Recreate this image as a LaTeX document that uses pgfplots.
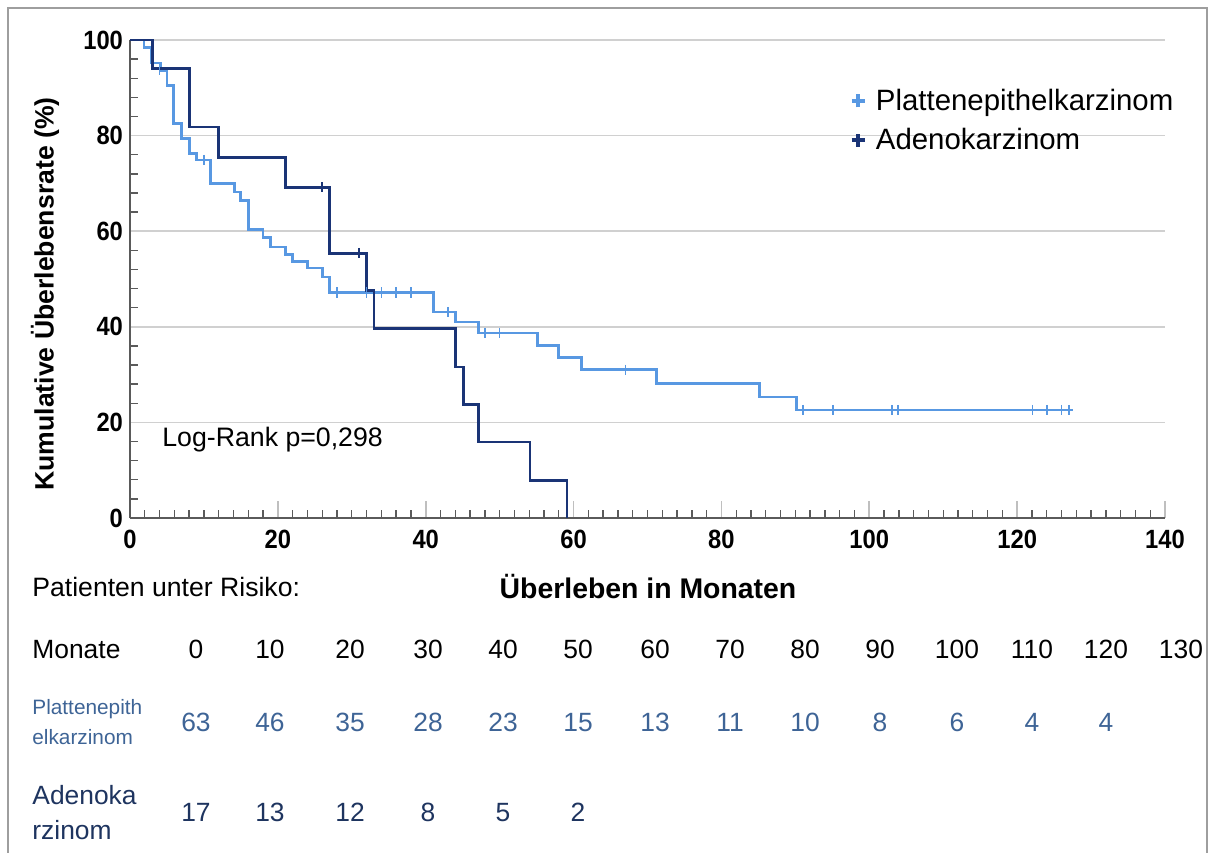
\documentclass[border=0pt]{standalone}
\usepackage{graphicx}
\usepackage{pgfplots}
\pgfplotsset{compat=1.18}
\usepackage{fontspec}
\setmainfont{Liberation Sans}

\definecolor{squam}{RGB}{88,152,226}
\definecolor{adeno}{RGB}{26,52,118}
\definecolor{squamtxt}{RGB}{62,100,150}
\definecolor{adenotxt}{RGB}{30,52,95}
\definecolor{gridgray}{RGB}{208,208,208}
\definecolor{axisgray}{RGB}{90,90,90}
\newcommand\fs[1]{\fontsize{#1}{#1}\selectfont}

% Kaplan-Meier steps: month, survival (%)
\pgfplotstableread{
m s
0 100
1.9 98.4
2.9 95.2
4.1 93.7
5.0 90.5
5.9 82.5
7.0 79.4
8.0 76.2
9.0 74.9
10.9 70.0
14.1 68.2
15.0 66.5
16.0 60.3
18.0 58.6
19.0 56.7
21.0 55.2
22.0 53.6
24.0 52.3
26.0 50.4
27.0 47.2
41.0 43.1
44.0 41.0
47.1 38.7
55.1 36.1
58.0 33.5
61.1 31.0
71.2 28.2
85.1 25.3
90.1 22.6
127.5 22.6
}\squamstep

\pgfplotstableread{
m s
4.0 93.7
10.0 74.9
28.0 47.2
32.0 47.2
34.0 47.2
36.0 47.2
38.0 47.2
43.0 43.1
48.0 38.7
50.0 38.7
67.0 31.0
91.0 22.6
95.1 22.6
103.1 22.6
103.9 22.6
122.1 22.6
124.0 22.6
126.0 22.6
127.0 22.6
}\squamcens

\pgfplotstableread{
m s
0 100
3.0 94.1
8.1 81.8
12.0 75.5
21.0 69.2
27.0 55.4
32.0 47.6
33.0 39.6
44.0 31.6
45.1 23.7
47.1 15.9
54.1 7.9
59.1 0
}\adenostep

\pgfplotstableread{
m s
26.0 69.2
31.0 55.4
}\adenocens

\begin{document}
\begin{tikzpicture}
\begin{axis}[
  at={(65pt,167pt)}, anchor=south west,
  scale only axis, width=517.5pt, height=239pt,
  xmin=0, xmax=140, ymin=0, ymax=100,
  axis lines*=left,
  axis line style={draw=axisgray, line width=0.9pt},
  xtick={0,20,...,140}, ytick={0,20,...,100},
  minor x tick num=9, minor y tick num=4,
  tick align=inside,
  major tick length=8.5pt, minor tick length=4pt,
  every major x tick/.style={draw=black!25, line width=0.8pt},
  every minor tick/.style={draw=axisgray, line width=0.7pt},
  every major y tick/.style={draw=none},
  ymajorgrids, major grid style={draw=gridgray, line width=0.8pt},
  ticklabel style={font=\bfseries\fs{13.2}},
  xticklabel={\scalebox{0.9}[1]{\pgfmathprintnumber{\tick}}},
  yticklabel={\scalebox{0.9}[1]{\pgfmathprintnumber{\tick}}},
  xticklabel style={yshift=-2.5pt},
  /pgf/number format/assume math mode=true,
  clip=false,
  legend style={draw=none, fill=none, at={(axis description cs:0.695,0.905)},
    anchor=north west, font=\fs{14.7}, inner sep=0pt, row sep=4.5pt,
    nodes={inner sep=1.5pt}},
  legend cell align=left,
  legend image code/.code={\draw[line width=1.8pt] (0,0)--(6.5pt,0) (3.25pt,-3.25pt)--(3.25pt,3.25pt); \path (10pt,0);},
]
\addplot[const plot, squam, line width=1.4pt] table[x=m,y=s] {\squamstep};
\addlegendentry{Plattenepithelkarzinom}
\addplot[const plot, adeno, line width=1.4pt] table[x=m,y=s] {\adenostep};
\addlegendentry{Adenokarzinom}
\addplot[only marks, squam, mark=|, mark size=2.6pt, mark options={line width=0.8pt}, forget plot] table[x=m,y=s] {\squamcens};
\addplot[only marks, adeno, mark=|, mark size=2.6pt, mark options={line width=0.8pt}, forget plot] table[x=m,y=s] {\adenocens};
\end{axis}

\begin{scope}[x=0.5pt, y=-0.5pt, shift={(0pt,426pt)}]
  \path[use as bounding box] (0,0) rectangle (1210,852);
  \draw[black!38, line width=1pt] (8,853) -- (8,8) -- (1207,8) -- (1207,853);
  % axis titles
  \node[rotate=90, font=\bfseries\fs{13.3}] at (45,294) {Kumulative Überlebensrate (\%)};
  \node[font=\bfseries\fs{14.2}] at (648,587) {Überleben in Monaten};
  \node[anchor=west, font=\fs{13.35}, inner sep=0pt] at (162,440) {Log-Rank p=0,298};
  % numbers at risk
  \node[anchor=west, font=\fs{13.3}, inner sep=0pt] at (32,587) {Patienten unter Risiko:};
  \node[anchor=base west, font=\fs{13.2}, inner sep=0pt] at (32,659) {Monate};
  \node[anchor=west, font=\fs{10.4}, inner sep=0pt, text=squamtxt] at (32,709) {Plattenepith};
  \node[anchor=west, font=\fs{10.4}, inner sep=0pt, text=squamtxt] at (32,737) {elkarzinom};
  \node[anchor=west, font=\fs{13.2}, inner sep=0pt, text=adenotxt] at (32,795) {Adenoka};
  \node[anchor=west, font=\fs{13.2}, inner sep=0pt, text=adenotxt] at (32,830) {rzinom};
  \foreach \xp/\m in {196/0,270/10,350/20,428/30,503/40,578/50,655/60,730/70,805/80,880/90,957/100,1032/110,1106/120,1181/130}
    \node[anchor=base, font=\fs{13.2}, inner sep=0pt] at (\xp,659) {\m};
  \foreach \xp/\n in {196/63,270/46,350/35,428/28,503/23,578/15,655/13,730/11,805/10,880/8,957/6,1032/4,1106/4}
    \node[anchor=base, font=\fs{13.2}, inner sep=0pt, text=squamtxt] at (\xp,731) {\n};
  \foreach \xp/\n in {196/17,270/13,350/12,428/8,503/5,578/2}
    \node[anchor=base, font=\fs{13.2}, inner sep=0pt, text=adenotxt] at (\xp,821) {\n};
\end{scope}
\end{tikzpicture}
\end{document}
